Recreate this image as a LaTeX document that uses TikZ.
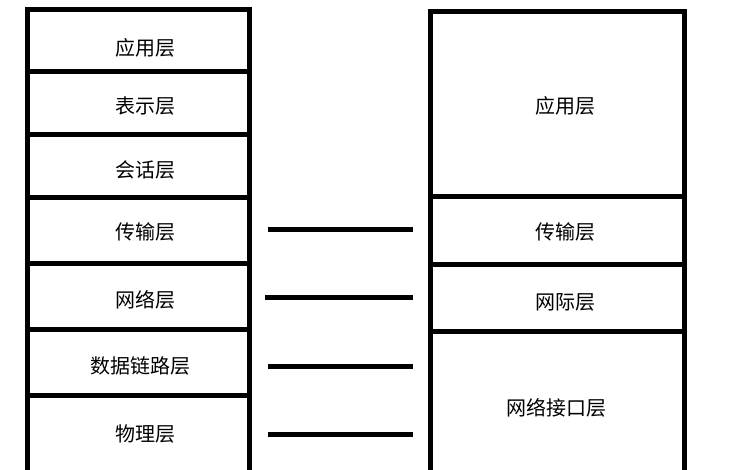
\documentclass[tikz,border=0pt]{standalone}
\usepackage{fontspec}
\newfontfamily\cjk{Noto Sans CJK SC}
\begin{document}
\begin{tikzpicture}[x=1pt,y=-1pt]
% Styles
\tikzstyle{cadre}=[line width=5pt]
\tikzstyle{barre}=[line width=5pt]
\tikzstyle{couche}=[font=\cjk\fontsize{20}{20}\selectfont]
% Dimensions
\def\Ga{27}
\def\Da{249}
\def\Gb{430}
\def\Db{684}
\useasboundingbox (0,0) rectangle (729,470);
% Pile OSI
\draw[cadre] (\Ga,10) rectangle (\Da,475);
\foreach \y in {72,135,198,264,330,396}
  \draw[cadre] (\Ga,\y) -- (\Da,\y);
\node[couche] (app) at (145,48) {应用层};
\node[couche] (pres) at (145,106) {表示层};
\node[couche] (sess) at (145,170) {会话层};
\node[couche] (trans) at (145,232) {传输层};
\node[couche] (res) at (145,300) {网络层};
\node[couche] (liaison) at (140,366) {数据链路层};
\node[couche] (phys) at (145,434) {物理层};
% Pile TCP/IP
\draw[cadre] (\Gb,12) rectangle (\Db,475);
\foreach \y in {197,265,332}
  \draw[cadre] (\Gb,\y) -- (\Db,\y);
\node[couche] (tapp) at (565,106) {应用层};
\node[couche] (ttrans) at (565,232) {传输层};
\node[couche] (tinter) at (565,302) {网际层};
\node[couche] (tinterf) at (556,408) {网络接口层};
% Barres
\foreach \y/\g in {230/268,298/265,367/268,435/268} {
  \coordinate (g\y) at (\g,\y);
  \coordinate (d\y) at (413,\y);
  \draw[barre] (g\y) -- (d\y);
}
\end{tikzpicture}
\end{document}
